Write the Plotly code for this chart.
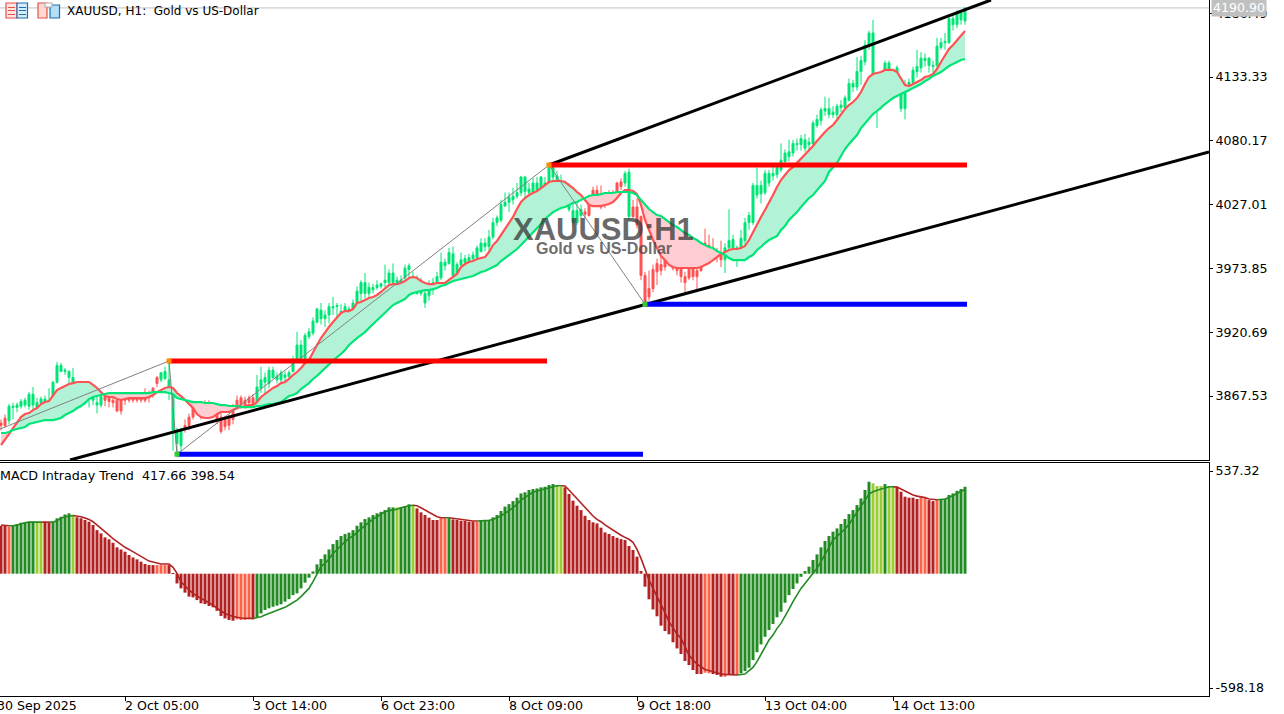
import plotly.graph_objects as go

opens = [3845,3849,3847,3858,3858,3859,3860,3859,3860,3858,
3862,3862,3858,3866,3879,3888,3888,3883,3878,3869,
3868,3868,3866,3864,3860,3860,3867,3866,3864,3864,
3864,3867,3867,3867,3868,3868,3869,3869,3874,3883,
3881,3882,3871,3839,3828,3826,3843,3850,3860,3860,
3858,3862,3862,3860,3858,3850,3848,3849,3858,3864,
3866,3864,3866,3866,3862,3874,3879,3878,3883,3881,
3881,3883,3884,3888,3898,3899,3899,3917,3920,3929,
3932,3932,3935,3941,3942,3937,3938,3938,3932,3945,
3953,3953,3953,3956,3958,3959,3962,3962,3962,3962,
3961,3966,3973,3964,3953,3953,3945,3951,3956,3962,
3966,3976,3978,3968,3967,3977,3979,3979,3982,3983,
3988,3992,3992,4000,4012,4014,4026,4029,4031,4034,
4037,4038,4037,4037,4039,4040,4040,4045,4050,4047,
4045,4040,4023,4012,4012,4018,4021,4033,4039,4039,
4035,4032,4037,4037,4045,4046,4045,4017,4025,4025,
4017,3968,3957,3973,3978,3977,3989,3991,3991,3979,
3979,3967,3975,3977,3972,3992,3995,3993,3991,3987,
3985,3981,3991,3983,3982,3991,3997,4012,4012,4035,
4036,4037,4045,4051,4052,4056,4063,4067,4070,4077,
4077,4074,4077,4078,4093,4097,4105,4102,4102,4102,
4108,4108,4114,4125,4125,4138,4146,4160,4121,4113,
4113,4127,4128,4128,4132,4107,4107,4127,4129,4138,
4141,4147,4143,4142,4143,4158,4162,4162,4177,4177,4181,4180]
highs = [3848,3852,3861,3862,3862,3865,3866,3871,3875,3866,
3867,3868,3874,3880,3896,3895,3891,3889,3891,3878,
3878,3878,3874,3874,3868,3871,3870,3867,3867,3867,
3867,3869,3869,3868,3870,3870,3874,3872,3875,3884,
3887,3892,3897,3872,3841,3841,3848,3853,3862,3862,
3861,3864,3864,3862,3861,3854,3851,3852,3861,3868,
3868,3867,3868,3869,3885,3892,3887,3892,3892,3887,
3889,3888,3889,3901,3921,3914,3920,3924,3933,3941,
3945,3939,3945,3950,3945,3944,3945,3942,3948,3959,
3964,3970,3962,3961,3964,3962,3977,3973,3978,3967,
3968,3977,3978,3971,3968,3966,3956,3964,3966,3971,
3987,3982,3991,3992,3979,3987,3985,3986,3988,3993,
3999,3999,4006,4016,4018,4031,4037,4037,4041,4045,
4051,4051,4045,4049,4050,4051,4050,4060,4058,4055,
4052,4047,4043,4035,4031,4027,4024,4035,4042,4043,
4043,4037,4039,4039,4046,4049,4055,4057,4031,4032,
4018,3971,3972,3977,3982,3987,3991,3993,3995,3982,
3987,3971,3979,3979,3979,3994,4007,4002,3999,3991,
3997,3995,4023,4002,3993,4006,4016,4021,4045,4058,
4047,4056,4056,4060,4060,4078,4073,4081,4081,4082,
4085,4086,4083,4097,4102,4108,4117,4116,4109,4111,
4114,4118,4132,4131,4150,4151,4164,4172,4181,4128,
4131,4147,4147,4137,4143,4131,4131,4132,4142,4156,
4154,4153,4150,4147,4166,4166,4170,4185,4185,4189,4189,4191]
lows = [3839,3841,3844,3848,3854,3857,3858,3856,3853,3854,
3859,3859,3850,3858,3878,3888,3885,3877,3866,3864,
3858,3860,3858,3860,3853,3858,3859,3858,3858,3854,
3852,3860,3862,3862,3862,3862,3862,3862,3866,3875,
3879,3881,3864,3822,3821,3822,3837,3839,3848,3852,
3848,3853,3853,3850,3844,3836,3839,3839,3844,3856,
3858,3857,3859,3858,3860,3870,3870,3874,3882,3878,
3877,3880,3882,3887,3897,3898,3898,3915,3918,3928,
3927,3925,3928,3935,3932,3931,3932,3927,3929,3943,
3946,3949,3950,3953,3956,3957,3958,3960,3957,3960,
3957,3964,3962,3960,3952,3951,3941,3947,3952,3960,
3964,3972,3977,3966,3964,3974,3977,3976,3978,3981,
3987,3988,3989,3998,4009,4012,4025,4021,4027,4032,
4034,4032,4034,4032,4027,4037,4038,4041,4045,4039,
4032,4035,4021,4010,4010,4016,4016,4017,4027,4031,
4023,4024,4027,4029,4035,4039,4042,4014,4016,4007,
3964,3944,3947,3954,3960,3968,3972,3979,3972,3968,
3962,3954,3964,3964,3956,3971,3989,3985,3982,3979,
3975,3970,3983,3981,3975,3982,3992,4006,4010,4032,
4028,4035,4042,4047,4049,4054,4060,4063,4067,4072,
4072,4071,4072,4076,4091,4093,4101,4099,4099,4091,
4104,4106,4113,4121,4122,4127,4143,4156,4114,4091,
4106,4124,4122,4122,4127,4104,4098,4121,4127,4133,
4137,4142,4137,4137,4141,4156,4156,4161,4172,4174,4177,4177]
closes = [3843,3843,3859,3859,3860,3863,3864,3869,3869,3862,
3865,3865,3862,3879,3893,3893,3889,3888,3883,3874,
3874,3874,3869,3871,3862,3867,3864,3863,3862,3855,
3855,3864,3864,3864,3864,3864,3864,3866,3868,3878,
3887,3888,3881,3869,3839,3839,3841,3843,3850,3856,
3852,3856,3856,3854,3848,3838,3842,3843,3848,3858,
3860,3860,3862,3860,3875,3881,3883,3889,3889,3884,
3887,3885,3887,3898,3910,3910,3918,3921,3930,3940,
3939,3935,3942,3942,3943,3938,3942,3940,3945,3955,
3962,3962,3958,3958,3960,3961,3964,3970,3970,3964,
3964,3974,3976,3967,3965,3962,3953,3958,3962,3967,
3979,3979,3987,3986,3977,3981,3982,3983,3985,3991,
3995,3995,4000,4012,4016,4027,4029,4033,4034,4037,
4050,4050,4040,4045,4045,4050,4045,4058,4058,4051,
4047,4045,4041,4022,4022,4023,4019,4018,4033,4035,
4025,4027,4031,4032,4037,4042,4053,4054,4017,4010,
3968,3946,3950,3957,3971,3972,3975,3985,3974,3972,
3967,3962,3966,3967,3967,3972,3992,3992,3987,3985,
3981,3991,3997,3998,3991,3999,4012,4018,4043,4043,
4043,4053,4053,4053,4058,4064,4070,4071,4078,4078,
4082,4081,4079,4095,4098,4106,4107,4107,4104,4109,
4110,4116,4128,4128,4138,4147,4160,4170,4170,4122,
4128,4145,4145,4132,4141,4127,4127,4129,4139,4142,
4149,4149,4149,4143,4159,4162,4163,4182,4182,4187,4187,4190.9]

fast_ma = [3826.7,3830.8,3835.8,3840.8,3845.8,3850,3852.5,3853.3,3855.8,3857.5,
3860.8,3862.5,3863.3,3867.5,3872.5,3874.2,3875.8,3877.5,3878.3,3879.2,
3879.2,3879.2,3879.2,3876.7,3874.2,3870.8,3867.5,3866.7,3866.7,3865,
3864.2,3865,3865.8,3865.8,3865.8,3865.8,3865.8,3866.7,3868.3,3870.8,
3872.5,3874.2,3875,3874.2,3870,3867.5,3864.2,3860.8,3857.5,3852.5,
3850,3849.2,3849.2,3850,3852.5,3854.2,3854.2,3854.2,3855.8,3857.5,
3858.3,3859.2,3860,3860,3862.5,3866.7,3869.2,3871.7,3874.2,3875.8,
3878.3,3879.2,3881.7,3885,3887.5,3890.8,3895,3897.5,3904.2,3910,
3915.8,3920.8,3925,3929.2,3933.3,3936.7,3938.3,3938.3,3940,3945,
3945.8,3947.5,3949.2,3950,3951.7,3954.2,3957.5,3960,3960.8,3960.8,
3961.7,3963.3,3965.8,3966.7,3965.8,3963.3,3961.7,3960.8,3960.8,3961.7,
3961.7,3961.7,3964.2,3966.7,3969.2,3975,3977.5,3979.2,3980,3981.7,
3982.5,3983.3,3987.5,3993.3,3996.7,4001.7,4007.5,4011.7,4016.7,4023.3,
4029.2,4032.5,4035,4036.7,4038.3,4040.8,4043.3,4045.8,4046.7,4046.7,
4046.7,4045.8,4043.3,4040.8,4037.5,4035,4030.8,4026.7,4025.8,4025.8,
4025.8,4026.7,4027.5,4029.2,4032.5,4036.7,4039.2,4039.2,4038.3,4035.8,
4026.7,4014.2,4005,3997.5,3990.8,3984.2,3980.8,3976.7,3975,3974.2,
3974.2,3974.2,3974.2,3974.2,3974.2,3975,3976.7,3978.3,3980.8,3983.3,
3985.8,3987.5,3989.2,3990,3990,3990.8,3992.5,3997.5,4004.2,4010.8,
4016.7,4022.5,4028.3,4035,4041.7,4047.5,4051.7,4055.8,4058.3,4061.7,
4065,4068.3,4072.5,4075.8,4080,4084.2,4087.5,4090.8,4093.3,4097.5,
4102.5,4106.7,4110,4112.5,4115.8,4120.8,4127.5,4133.3,4135.8,4136.7,
4137.5,4139.2,4139.2,4139.2,4137.5,4132.5,4126.7,4125.8,4127.5,4129.2,
4130.8,4133.3,4134.2,4135.8,4140,4145.8,4150.8,4156.7,4160,4164.2,4167.5,4171.7]
slow_ma = [3836.7,3836.7,3837.5,3839.2,3840,3840.8,3841.7,3844.2,3845,3845.8,
3846.7,3847.5,3847.5,3847.5,3848.3,3849.2,3851.7,3853.3,3855,3857.5,
3859.2,3861.7,3865,3866.7,3867.5,3868.3,3869.2,3870,3870,3870,
3870,3870,3870,3870,3870,3870,3870,3870,3870.8,3870.8,
3870.8,3870.8,3870,3869.2,3865.8,3865,3864.2,3863.3,3862.5,3862.5,
3862.5,3861.7,3861.7,3861.7,3860.8,3860,3860,3859.2,3859.2,3859.2,
3858.3,3858.3,3858.3,3858.3,3859.2,3859.2,3860,3860.8,3860.8,3861.7,
3862.5,3865,3867.5,3868.3,3870,3873.3,3875.8,3878.3,3881.7,3884.2,
3887.5,3890.8,3894.2,3897.5,3900,3902.5,3905.8,3910,3913.3,3915.8,
3918.3,3920.8,3924.2,3927.5,3930.8,3933.3,3936.7,3940,3943.3,3945,
3946.7,3948.3,3951.7,3953.3,3954.2,3955,3955.8,3955.8,3956.7,3957.5,
3959.2,3960,3961.7,3963.3,3964.2,3965,3965.8,3966.7,3967.5,3969.2,
3970.8,3971.7,3973.3,3975,3976.7,3980,3982.5,3985,3987.5,3990,
3993.3,3996.7,4000.8,4004.2,4007.5,4010.8,4015,4018.3,4020.8,4022.5,
4024.2,4025,4026.7,4028.3,4029.2,4030.8,4032.5,4034.2,4035,4035,
4035.8,4036.7,4036.7,4036.7,4037.5,4037.5,4037.5,4037.5,4036.7,4035,
4030.8,4026.7,4023.3,4020.8,4018.3,4017.5,4015,4012.5,4010,4008.3,
4005.8,4003.3,4001.7,3999.2,3997.5,3995,3993.3,3991.7,3990.8,3988.3,
3986.7,3985,3982.5,3980.8,3980.8,3980.8,3980.8,3983.3,3985,3989.2,
3991.7,3995,3997.5,3999.2,4000.8,4005.8,4009.2,4014.2,4017.5,4020.8,
4025,4029.2,4032.5,4035,4039.2,4042.5,4046.7,4054.2,4058.3,4061.7,
4067.5,4073.3,4077.5,4081.7,4085,4090.8,4095,4099.2,4102.5,4105,
4108.3,4110.8,4113.3,4115.8,4117.5,4119.2,4120.8,4122.5,4124.2,4125.8,
4127.5,4130,4131.7,4134.2,4135.8,4137.5,4140,4142.5,4144.2,4145.8,4147.5,4148.3]

macd_hist = [251,251,246,255,260,267,269,272,272,269,
269,272,269,272,290,298,310,316,303,295,
290,281,272,255,228,211,190,180,162,138,
127,115,98,85,75,63,51,45,45,45,
45,45,45,2,-51,-77,-99,-120,-124,-138,
-155,-159,-169,-176,-194,-221,-234,-242,-246,-239,
-242,-242,-239,-239,-228,-208,-190,-181,-173,-167,
-160,-146,-133,-112,-103,-77,-47,-21,12,49,
77,101,127,155,176,197,208,215,228,251,
269,286,295,307,316,324,333,347,347,347,
347,354,363,354,342,321,307,293,281,281,
290,290,290,284,281,277,276,272,272,272,
277,277,277,295,307,328,351,364,380,398,
420,426,438,443,446,452,455,464,469,464,
455,452,417,382,356,333,303,281,269,263,
241,216,208,197,188,181,176,145,124,89,
14,-68,-134,-187,-223,-272,-300,-317,-359,-391,
-420,-457,-478,-504,-525,-525,-518,-521,-525,-530,
-539,-539,-530,-530,-530,-521,-509,-492,-452,-411,
-370,-330,-295,-263,-228,-199,-152,-112,-80,-51,
-16,14,37,72,101,138,171,197,220,237,
260,286,312,333,359,394,438,481,473,459,
459,469,455,455,455,429,403,398,398,391,
398,394,385,380,385,391,391,412,420,434,443,455]
macd_signal = [255,253,251,251,255,263,267,270,270,270,
270,270,270,270,277,290,298,303,305,303,
298,291,284,272,255,237,223,202,183,167,
150,138,127,115,101,89,78,66,61,54,
51,51,51,33,2,-42,-65,-85,-103,-117,
-129,-140,-152,-164,-181,-195,-208,-218,-225,-228,
-232,-232,-232,-234,-230,-225,-216,-208,-201,-194,
-185,-176,-164,-152,-138,-120,-99,-77,-42,2,
37,54,77,106,124,146,167,185,197,218,
234,251,269,286,298,310,324,330,333,337,
345,351,356,358,356,345,333,321,310,298,
293,293,293,290,284,281,279,277,276,276,
276,277,279,284,291,302,316,330,344,364,
385,399,415,426,433,439,446,452,457,460,
460,459,438,415,394,368,345,321,302,284,
272,255,241,225,211,201,190,180,164,127,
80,19,-33,-77,-120,-155,-204,-251,-286,-316,
-338,-382,-426,-452,-473,-487,-501,-507,-514,-521,
-525,-527,-528,-530,-530,-528,-525,-507,-490,-460,
-420,-382,-347,-321,-286,-260,-225,-185,-146,-112,
-77,-51,-24,2,28,63,98,138,176,194,
215,234,258,290,324,359,389,417,429,438,
443,448,455,455,453,443,433,420,412,406,
403,398,391,389,387,389,391,399,410,422,433,441]

hist_state_runs = [("r",2),("t",1),("g",6),("y",2),("r",2),("g",5),("y",1),("r",20),("t",3),
("r",17),("t",4),("r",1),("g",35),("y",1),("g",3),("y",1),("r",6),("t",2),("g",1),("r",6),
("t",1),("g",19),("y",2),("r",35),("t",2),("r",3),("t",1),("r",2),("t",1),("g",33),("y",3),
("g",1),("y",2),("r",6),("t",2),("r",2),("t",1),("g",7)]

# upper channel, lower channel, levels and swing points (bar number, price)
upper_channel = [(137, 4060.0), (247.5, 4197.5)]
lower_channel = [(17.25, 3814.2), (302, 4070.8)]
red_levels = [(42, 136.5, 3896.7), (137, 241.5, 4060.0)]
blue_levels = [(44, 160.5, 3819.0), (161, 241.5, 3944.0)]
swing_bars = [-1, 42, 44, 137, 161]
swing_prices = [3839.0, 3896.7, 3819.0, 4060.0, 3944.0]
last_price = 4190.90

price_ticks = [3867.53, 3920.69, 3973.85, 4027.01, 4080.17, 4133.33, 4186.49]
macd_ticks = [537.32, -598.18]
time_tick_bars = [-1, 31, 63, 95, 127, 159, 191, 223]
time_tick_labels = ["30 Sep 2025", "2 Oct 05:00", "3 Oct 14:00", "6 Oct 23:00", "8 Oct 09:00",
                    "9 Oct 18:00", "13 Oct 04:00", "14 Oct 13:00"]

states = "".join(s * n for s, n in hist_state_runs)
n = len(opens)
assert all(len(a) == n for a in (highs, lows, closes, fast_ma, slow_ma, macd_hist, macd_signal, states)), \
    [len(a) for a in (opens, highs, lows, closes, fast_ma, slow_ma, macd_hist, macd_signal, states)]
bars = list(range(n))

W, H = 1284, 714
PR, PB = 75, 18
PW, PH = W - PR, H - PB
XR = [-0.25, 302]
MAIN_R = [3814.2, 4197.5]
SUB_R = [-640, 579.3]
FONT = "DejaVu Sans"
BULL, BEAR = "#00E676", "#FF5252"
HC = {"r": "#B22222", "t": "#FF6347", "g": "#228B22", "y": "#9ACD32"}

fig = go.Figure()

# fill between the averages, one polygon per run of same sign
def fill_runs():
    i = 0
    while i < n - 1:
        up = fast_ma[i] >= slow_ma[i]
        xs, a, b = [i], [fast_ma[i]], [slow_ma[i]]
        j = i
        while j < n - 1:
            d0 = fast_ma[j] - slow_ma[j]
            d1 = fast_ma[j + 1] - slow_ma[j + 1]
            if (d1 >= 0) == up:
                j += 1
                xs.append(j); a.append(fast_ma[j]); b.append(slow_ma[j])
            else:
                t = d0 / (d0 - d1)
                v = fast_ma[j] + t * (fast_ma[j + 1] - fast_ma[j])
                xs.append(j + t); a.append(v); b.append(v)
                break
        yield up, xs, a, b
        i = j + 1 if j < n - 1 else n

for up, xs, a, b in fill_runs():
    fig.add_trace(go.Scatter(x=xs + xs[::-1], y=a + b[::-1], mode="lines", fill="toself",
                             fillcolor="#B2F3D8" if up else "#FFCDD2", line=dict(width=0),
                             hoverinfo="skip", xaxis="x", yaxis="y"))

fig.add_trace(go.Candlestick(x=bars, open=opens, high=highs, low=lows, close=closes,
                             whiskerwidth=0,
                             increasing=dict(line=dict(color=BULL, width=1), fillcolor=BULL),
                             decreasing=dict(line=dict(color=BEAR, width=1), fillcolor=BEAR),
                             xaxis="x", yaxis="y"))
fig.add_trace(go.Scatter(x=bars, y=fast_ma, mode="lines", line=dict(color=BEAR, width=2.2), xaxis="x", yaxis="y"))
fig.add_trace(go.Scatter(x=bars, y=slow_ma, mode="lines", line=dict(color=BULL, width=2.2), xaxis="x", yaxis="y"))

fig.add_trace(go.Scatter(x=swing_bars, y=swing_prices, mode="lines", line=dict(color="#808080", width=1),
                         xaxis="x", yaxis="y"))
for ch in (upper_channel, lower_channel):
    fig.add_trace(go.Scatter(x=[p[0] for p in ch], y=[p[1] for p in ch], mode="lines",
                             line=dict(color="#000000", width=3), xaxis="x", yaxis="y"))
for lv, c in [(red_levels, "#FF0000"), (blue_levels, "#0000FF")]:
    for x0, x1, p in lv:
        fig.add_trace(go.Scatter(x=[x0, x1], y=[p, p], mode="lines", line=dict(color=c, width=5),
                                 xaxis="x", yaxis="y"))
fig.add_trace(go.Scatter(x=swing_bars[1:], y=swing_prices[1:], mode="markers",
                         marker=dict(symbol="square", size=5, color=["#FF8C00", "#32CD32", "#FF8C00", "#32CD32"]),
                         xaxis="x", yaxis="y"))

# MACD pane
fig.add_trace(go.Bar(x=bars, y=macd_hist, width=0.75, marker=dict(color=[HC[s] for s in states], line=dict(width=0)),
                     xaxis="x2", yaxis="y2"))
i = 0
while i < n:
    rising = states[i] in "gy"
    j = i
    while j + 1 < n and (states[j + 1] in "gy") == rising:
        j += 1
    s = max(i - 1, 0)
    fig.add_trace(go.Scatter(x=bars[s:j + 1], y=macd_signal[s:j + 1], mode="lines",
                             line=dict(color=HC["g"] if rising else HC["r"], width=1.6),
                             xaxis="x2", yaxis="y2"))
    i = j + 1

def px(x): return x / PW
def py(y): return 1 - y / PH

shapes = []
def add_rect(x0, y0, x1, y1, fill, line):
    shapes.append(dict(type="rect", xref="paper", yref="paper", x0=px(x0), x1=px(x1), y0=py(y0), y1=py(y1),
                       fillcolor=fill, line=dict(color=line, width=1.2)))
def add_line(x0, y0, x1, y1, c):
    shapes.append(dict(type="line", xref="paper", yref="paper", x0=px(x0), x1=px(x1), y0=py(y0), y1=py(y1),
                       line=dict(color=c, width=1)))
# toolbar-style icons
add_rect(6, 3, 17, 18, "#FFE3DF", "#E8504A")
add_rect(17, 3, 27.5, 18, "#D5ECFB", "#1B6FB4")
for yy in (7.5, 10.5, 14.5):
    add_line(8, yy, 15, yy, "#E8504A")
    add_line(19, yy, 26, yy, "#1B6FB4")
add_rect(38, 3, 47, 18, "#FFD8D0", "#E8504A")
add_rect(50, 5, 59.5, 18, "#B5DFF8", "#1B6FB4")
add_rect(45, 3, 52, 7, "#FFFFFF", "#B0B0B0")

NB = "\u00a0\u00a0"
ann = [
    dict(x=px(66), y=py(11), xref="paper", yref="paper", text="XAUUSD, H1:" + NB + "Gold vs US-Dollar", showarrow=False,
         xanchor="left", yanchor="middle", xshift=-1, font=dict(family=FONT, size=12, color="#000000")),
    dict(x=px(0), y=py(475), xref="paper", yref="paper", text="MACD Intraday Trend" + NB + "417.66 398.54", showarrow=False,
         xanchor="left", yanchor="middle", xshift=-2, font=dict(family=FONT, size=12.7, color="#000000")),
    dict(x=px(603), y=py(229), xref="paper", yref="paper", text="<b>XAUUSD:H1</b>", showarrow=False,
         xanchor="center", yanchor="middle",
         font=dict(family="Liberation Sans", size=31, color="rgba(55,55,55,0.75)")),
    dict(x=px(604), y=py(248), xref="paper", yref="paper", text="<b>Gold vs US-Dollar</b>", showarrow=False,
         xanchor="center", yanchor="middle",
         font=dict(family="Liberation Sans", size=16, color="rgba(70,70,70,0.8)")),
    dict(x=px(1211), y=py(8), xref="paper", yref="paper", text=f"{last_price:.2f}", showarrow=False,
         xanchor="left", yanchor="middle", width=54, height=17, bgcolor="#C0C0C0", align="center", borderpad=0,
         font=dict(family=FONT, size=12.6, color="#FFFFFF")),
]
for b, t in zip(time_tick_bars, time_tick_labels):
    ann.append(dict(x=(b - XR[0]) / (XR[1] - XR[0]), y=0, xref="paper", yref="paper", text=t, showarrow=False,
                    xanchor="left", yanchor="top", yshift=-1, xshift=-1, borderpad=0,
                    font=dict(family=FONT, size=12.6, color="#000000")))

fig.update_layout(
    width=W, height=H, margin=dict(l=0, r=PR, t=0, b=PB, pad=0, autoexpand=False),
    paper_bgcolor="#FFFFFF", plot_bgcolor="#FFFFFF", showlegend=False, boxgap=0.5, boxgroupgap=0, hovermode=False,
    shapes=shapes, annotations=ann,
    xaxis=dict(domain=[0, 1], range=XR, anchor="y", showgrid=False, zeroline=False, showticklabels=False,
               showline=True, linecolor="#000000", linewidth=1, ticks="", rangeslider=dict(visible=False)),
    xaxis2=dict(domain=[0, 1], range=XR, anchor="y2", showgrid=False, zeroline=False, showticklabels=False,
                showline=True, linecolor="#000000", linewidth=1, mirror=True, ticks="outside", ticklen=4,
                tickcolor="#000000", tickmode="array", tickvals=time_tick_bars[1:]),
    yaxis=dict(domain=[1 - 460 / PH, 1], range=MAIN_R, side="right", anchor="x", showgrid=False, zeroline=False,
               showline=True, linecolor="#000000", linewidth=1, ticks="outside", ticklen=3, tickcolor="#000000",
               tickmode="array", tickvals=price_ticks, ticktext=[f"{v:.2f}" for v in price_ticks],
               tickfont=dict(family=FONT, size=12.6, color="#000000")),
    yaxis2=dict(domain=[0, 1 - 463 / PH], range=SUB_R, side="right", anchor="x2", showgrid=False, zeroline=False,
                showline=True, linecolor="#000000", linewidth=1, ticks="outside", ticklen=3, tickcolor="#000000",
                tickmode="array", tickvals=macd_ticks, ticktext=[f"{v:.2f}" for v in macd_ticks],
                tickfont=dict(family=FONT, size=12.6, color="#000000")),
)
fig.add_hline(y=last_price, line=dict(color="#C0C0C0", width=1), layer="below", xref="x", yref="y")
fig.write_html("out.html", config={"displayModeBar": False},
               post_script="document.body.style.margin='0';document.body.style.overflow='hidden';")
